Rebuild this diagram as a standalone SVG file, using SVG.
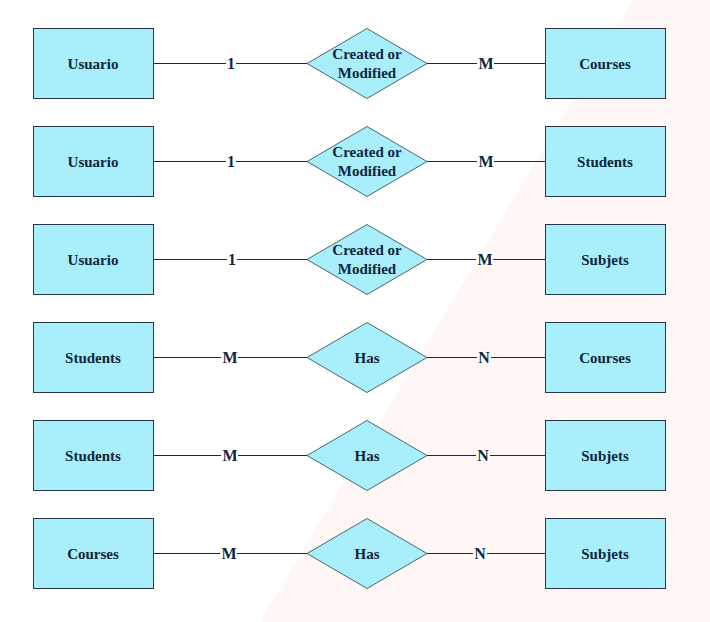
<svg xmlns="http://www.w3.org/2000/svg" width="710" height="622" viewBox="0 0 710 622" font-family="'Liberation Serif', 'DejaVu Serif', 'Times New Roman', serif">
<style>
text{font-family:'Liberation Serif','DejaVu Serif','Times New Roman',serif;font-weight:bold;font-size:15px;fill:#10263a;text-anchor:middle}
text.c{font-size:16px}
.ent{fill:#a8eefb;stroke:#263848;stroke-width:1}
.rel{fill:#a8eefb;stroke:#48686e;stroke-width:1}
.ln{stroke:#1e2a30;stroke-width:1;fill:none}
.lb{fill:#ffffff}
</style>
<rect x="0" y="0" width="710" height="622" fill="#ffffff"/>
<polygon points="633,0 710,0 710,622 260,622" fill="#fff7f6"/>
<g id="connectors">
<line class="ln" x1="153" y1="63.5" x2="307" y2="63.5"/><line class="ln" x1="427" y1="63.5" x2="545" y2="63.5"/>
<line class="ln" x1="153" y1="161.5" x2="307" y2="161.5"/><line class="ln" x1="427" y1="161.5" x2="545" y2="161.5"/>
<line class="ln" x1="153" y1="259.5" x2="307" y2="259.5"/><line class="ln" x1="427" y1="259.5" x2="545" y2="259.5"/>
<line class="ln" x1="153" y1="357.5" x2="307" y2="357.5"/><line class="ln" x1="427" y1="357.5" x2="545" y2="357.5"/>
<line class="ln" x1="153" y1="455.5" x2="307" y2="455.5"/><line class="ln" x1="427" y1="455.5" x2="545" y2="455.5"/>
<line class="ln" x1="153" y1="553.5" x2="307" y2="553.5"/><line class="ln" x1="427" y1="553.5" x2="545" y2="553.5"/>
<rect class="lb" x="226" y="57" width="10" height="13"/><text class="c" x="231" y="69">1</text>
<rect class="lb" x="477" y="57" width="17" height="13"/><text class="c" x="486" y="69">M</text>
<rect class="lb" x="226" y="155" width="10" height="13"/><text class="c" x="231" y="167">1</text>
<rect class="lb" x="477" y="155" width="17" height="13"/><text class="c" x="486" y="167">M</text>
<rect class="lb" x="227" y="253" width="10" height="13"/><text class="c" x="232" y="265">1</text>
<rect class="lb" x="476" y="253" width="17" height="13"/><text class="c" x="485" y="265">M</text>
<rect class="lb" x="221" y="351" width="17" height="13"/><text class="c" x="230" y="363">M</text>
<rect class="lb" x="477" y="351" width="14" height="13"/><text class="c" x="484" y="363">N</text>
<rect class="lb" x="221" y="449" width="17" height="13"/><text class="c" x="230" y="461">M</text>
<rect class="lb" x="476" y="449" width="14" height="13"/><text class="c" x="483" y="461">N</text>
<rect class="lb" x="220" y="547" width="17" height="13"/><text class="c" x="229" y="559">M</text>
<rect class="lb" x="473" y="547" width="14" height="13"/><text class="c" x="480" y="559">N</text>
</g>
<g id="usuario1"><rect class="ent" x="33.5" y="28.5" width="120" height="70"/><text x="93" y="69">Usuario</text></g>
<g id="rel1"><polygon class="rel" points="307,63.5 367,28.5 427,63.5 367,98.5"/><text x="367" y="59">Created or</text><text x="367" y="78">Modified</text></g>
<g id="courses1"><rect class="ent" x="545.5" y="28.5" width="120" height="70"/><text x="605" y="69">Courses</text></g>
<g id="usuario2"><rect class="ent" x="33.5" y="126.5" width="120" height="70"/><text x="93" y="167">Usuario</text></g>
<g id="rel2"><polygon class="rel" points="307,161.5 367,126.5 427,161.5 367,196.5"/><text x="367" y="157">Created or</text><text x="367" y="176">Modified</text></g>
<g id="students1"><rect class="ent" x="545.5" y="126.5" width="120" height="70"/><text x="605" y="167">Students</text></g>
<g id="usuario3"><rect class="ent" x="33.5" y="224.5" width="120" height="70"/><text x="93" y="265">Usuario</text></g>
<g id="rel3"><polygon class="rel" points="307,259.5 367,224.5 427,259.5 367,294.5"/><text x="367" y="255">Created or</text><text x="367" y="274">Modified</text></g>
<g id="subjets1"><rect class="ent" x="545.5" y="224.5" width="120" height="70"/><text x="605" y="265">Subjets</text></g>
<g id="students2"><rect class="ent" x="33.5" y="322.5" width="120" height="70"/><text x="93" y="363">Students</text></g>
<g id="rel4"><polygon class="rel" points="307,357.5 367,322.5 427,357.5 367,392.5"/><text x="367" y="363">Has</text></g>
<g id="courses2"><rect class="ent" x="545.5" y="322.5" width="120" height="70"/><text x="605" y="363">Courses</text></g>
<g id="students3"><rect class="ent" x="33.5" y="420.5" width="120" height="70"/><text x="93" y="461">Students</text></g>
<g id="rel5"><polygon class="rel" points="307,455.5 367,420.5 427,455.5 367,490.5"/><text x="367" y="461">Has</text></g>
<g id="subjets2"><rect class="ent" x="545.5" y="420.5" width="120" height="70"/><text x="605" y="461">Subjets</text></g>
<g id="courses3"><rect class="ent" x="33.5" y="518.5" width="120" height="70"/><text x="93" y="559">Courses</text></g>
<g id="rel6"><polygon class="rel" points="307,553.5 367,518.5 427,553.5 367,588.5"/><text x="367" y="559">Has</text></g>
<g id="subjets3"><rect class="ent" x="545.5" y="518.5" width="120" height="70"/><text x="605" y="559">Subjets</text></g>
</svg>
